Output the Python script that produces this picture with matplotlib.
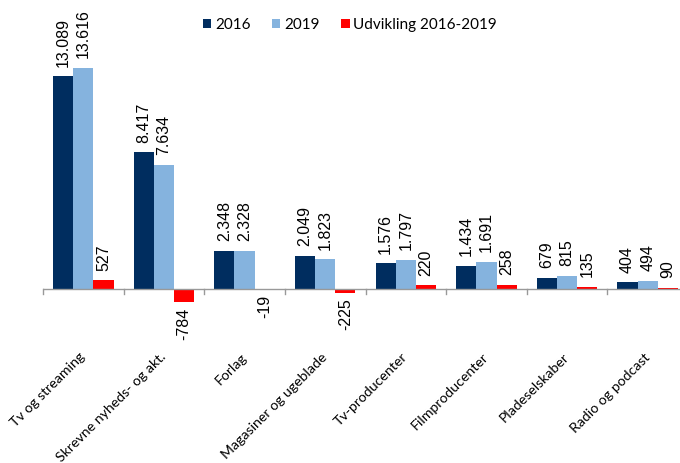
import matplotlib
matplotlib.use("Agg")
import matplotlib.pyplot as plt
import numpy as np

categories = ["Tv og streaming", "Skrevne nyheds- og akt.", "Forlag", "Magasiner og ugeblade",
              "Tv-producenter", "Filmproducenter", "Pladeselskaber", "Radio og podcast"]
v2016 = [13089, 8417, 2348, 2049, 1576, 1434, 679, 404]
v2019 = [13616, 7634, 2328, 1823, 1797, 1691, 815, 494]
change = [527, -784, -19, -225, 220, 258, 135, 90]
series_names = ["2016", "2019", "Udvikling 2016-2019"]

colors = ["#002D5F", "#85B3DE", "#FF0000"]


def fmt(v):
    return f"{v:,}".replace(",", ".")


fig = plt.figure(figsize=(6.8, 4.63), dpi=100)
ax = fig.add_axes([43 / 680, 1 - 354 / 463, 645 / 680, 325 / 463])

x = np.arange(len(categories))
w = 0.25
for i, (vals, col) in enumerate(zip([v2016, v2019, change], colors)):
    pos = x + (i - 1) * w
    bars = ax.bar(pos, vals, width=w, color=col, label=series_names[i], zorder=2)
    for b, v in zip(bars, vals):
        if v >= 0:
            ax.annotate(fmt(v), (b.get_x() + w / 2, v), xytext=(0, 7), textcoords="offset points",
                        rotation=90, ha="center", va="bottom", fontsize=11.5,
                        family="Liberation Sans")
        else:
            ax.annotate(fmt(v), (b.get_x() + w / 2, v), xytext=(0, -4), textcoords="offset points",
                        rotation=90, ha="center", va="top", fontsize=11.5,
                        family="Liberation Sans")

ax.set_xlim(-0.5, len(categories) - 0.5)
ax.set_ylim(-4000, 16000)
for s in ["top", "right", "left", "bottom"]:
    ax.spines[s].set_visible(False)
ax.axhline(0, color="#999999", lw=1, zorder=3)
ax.set_yticks([])

ax.set_xticks(x)
ax.set_xticklabels([])
ax.tick_params(axis="x", length=0)
for xi, lab in zip(x, categories):
    ax.text(xi, -4066, lab, rotation=45, rotation_mode="anchor", ha="right", va="center",
            fontsize=10.2, family="Lato", clip_on=False)
for b in np.arange(-0.5, len(categories), 1.0):
    ax.plot([b, b], [0, -300], color="#999999", lw=1, zorder=3, clip_on=False)

ax.legend(loc="center", bbox_to_anchor=(350 / 680, 1 - 25 / 463), bbox_transform=fig.transFigure,
          ncol=3, frameon=False, prop={"family": "Lato", "size": 11}, handlelength=0.55,
          handleheight=0.55, handletextpad=0.25, columnspacing=1.4, borderpad=0)

fig.savefig("out.png", dpi=100)
